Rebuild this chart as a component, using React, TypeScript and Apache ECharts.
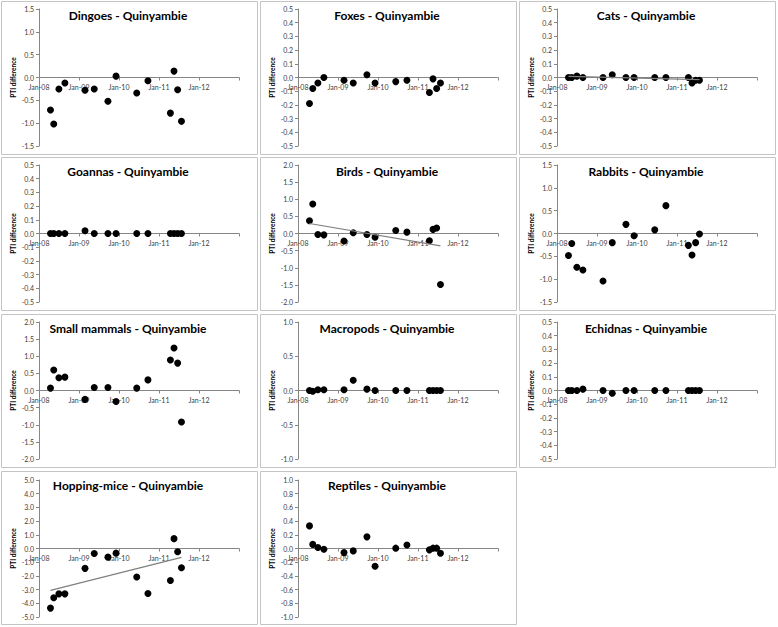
import React, { useEffect, useRef } from "react";
import * as echarts from "echarts";

const surveyDates = [
  "2008-04-15", "2008-05-15", "2008-07-01", "2008-08-25", "2009-02-25", "2009-05-20", "2009-09-22",
  "2009-12-05", "2010-06-12", "2010-09-22", "2011-04-15", "2011-05-18", "2011-06-20", "2011-07-25",
];

const panelNames = [
  "Dingoes", "Foxes", "Cats", "Goannas", "Birds", "Rabbits",
  "Small mammals", "Macropods", "Echidnas", "Hopping-mice", "Reptiles",
];
const siteName = "Quinyambie";

const dingoes = [-0.71, -1.02, -0.25, -0.12, -0.28, -0.25, -0.52, 0.03, -0.34, -0.07, -0.78, 0.14, -0.27, -0.96];
const foxes = [-0.19, -0.08, -0.04, 0.0, -0.02, -0.04, 0.02, -0.04, -0.03, -0.02, -0.11, -0.01, -0.08, -0.04];
const cats = [0, 0, 0.01, 0, 0, 0.02, 0, 0, 0, 0, 0, -0.04, -0.02, -0.02];
const goannas = [0, 0, 0, 0, 0.02, 0, 0, 0, 0, 0, 0, 0, 0, 0];
const birds = [0.37, 0.86, -0.03, -0.04, -0.22, 0.02, -0.03, -0.11, 0.09, 0.04, -0.21, 0.12, 0.16, -1.49];
const rabbits = [-0.48, -0.22, -0.74, -0.8, -1.04, -0.2, 0.2, -0.05, 0.08, 0.61, -0.26, -0.47, -0.2, -0.01];
const smallMammals = [0.07, 0.6, 0.37, 0.39, -0.26, 0.09, 0.09, -0.32, 0.07, 0.31, 0.89, 1.24, 0.8, -0.92];
const macropods = [0, -0.01, 0.01, 0.01, 0.01, 0.15, 0.02, 0, 0, 0, 0, 0, 0, 0];
const echidnas = [0, 0, 0, 0.01, 0, -0.02, 0, 0, 0, 0, 0, 0, 0, 0];
const hoppingMice = [-4.35, -3.6, -3.31, -3.31, -1.45, -0.36, -0.63, -0.34, -2.08, -3.29, -2.34, 0.72, -0.24, -1.4];
const reptiles = [0.33, 0.06, 0.015, -0.01, -0.06, -0.035, 0.17, -0.26, 0.005, 0.05, -0.02, 0.005, 0.005, -0.07];

const panelValues = [dingoes, foxes, cats, goannas, birds, rabbits, smallMammals, macropods, echidnas, hoppingMice, reptiles];
const yMin = [-1.5, -0.5, -0.5, -0.5, -2, -1.5, -2, -1, -0.5, -5, -1];
const yMax = [1.5, 0.5, 0.5, 0.5, 2, 1.5, 2, 1, 0.5, 5, 1];
const yStep = [0.5, 0.1, 0.1, 0.1, 0.5, 0.5, 0.5, 0.5, 0.1, 1, 0.2];
const hasTrend = [false, false, true, false, true, false, false, false, false, true, false];

const xStartYear = 2008;
const xEndYear = 2013;

function toYear(d: string): number {
  const [y, m, day] = d.split("-").map(Number);
  const start = Date.UTC(y, 0, 1);
  const end = Date.UTC(y + 1, 0, 1);
  return y + (Date.UTC(y, m - 1, day) - start) / (end - start);
}

export default function App() {
  const ref = useRef<HTMLDivElement>(null);
  useEffect(() => {
    if (!ref.current) return;
    const chart = echarts.init(ref.current, undefined, { renderer: "svg" });
    const font = "Lato, 'Open Sans', sans-serif";
    const axisColor = "#868686";
    const colLeft = [39, 298, 557];
    const rowTop = [9, 165, 322, 480];
    const panelX = [1, 260, 519];
    const panelY = [1, 157, 314, 471];
    const gridH = 137;
    const xs = surveyDates.map(toYear);

    const grids: any[] = [];
    const xAxes: any[] = [];
    const yAxes: any[] = [];
    const series: any[] = [];
    const titles: any[] = [];
    const graphics: any[] = [];

    panelNames.forEach((name, i) => {
      const r = Math.floor(i / 3);
      const c = i % 3;
      grids.push({ left: colLeft[c], top: rowTop[r], width: 200, height: gridH });
      graphics.push({
        type: "rect",
        shape: { x: panelX[c] + 0.5, y: panelY[r] + 0.5, width: 256, height: 153 },
        style: { fill: "none", stroke: "#c4c4c4", lineWidth: 1 },
        z: -10,
      });
      titles.push({
        text: `${name} - ${siteName}`,
        left: panelX[c] + 127,
        top: panelY[r] + 8,
        textAlign: "center",
        padding: 0,
        textStyle: { fontSize: 12, fontWeight: "bold", color: "#000", fontFamily: font },
      });
      const zeroOffset = -gridH * (0 - yMin[i]) / (yMax[i] - yMin[i]);
      xAxes.push({
        type: "value",
        gridIndex: i,
        position: "bottom",
        offset: zeroOffset,
        min: xStartYear,
        max: xEndYear,
        interval: 1,
        axisLine: { show: true, onZero: false, lineStyle: { color: axisColor, width: 1 } },
        axisTick: { show: true, length: 3, lineStyle: { color: axisColor } },
        axisLabel: {
          fontSize: 7,
          color: "#404040",
          fontFamily: font,
          margin: 6,
          formatter: (v: number) => (v >= xEndYear ? "" : "Jan-" + String(Math.round(v) % 100).padStart(2, "0")),
        },
        splitLine: { show: false },
      });
      yAxes.push({
        type: "value",
        gridIndex: i,
        min: yMin[i],
        max: yMax[i],
        interval: yStep[i],
        name: "PTI difference",
        nameLocation: "middle",
        nameGap: 22,
        nameTextStyle: { fontSize: 6.5, fontWeight: "bold", color: "#000", fontFamily: font },
        axisLine: { show: true, onZero: false, lineStyle: { color: axisColor, width: 1 } },
        axisTick: { show: true, length: 3, lineStyle: { color: axisColor } },
        axisLabel: {
          fontSize: 7,
          color: "#404040",
          fontFamily: font,
          margin: 5,
          formatter: (v: number) => (Math.abs(v) < 1e-9 ? "0.0" : v.toFixed(1)),
        },
        splitLine: { show: false },
      });
      const vals = panelValues[i];
      const pts = vals.map((v, k) => [xs[k], v]);
      if (hasTrend[i]) {
        const n = pts.length;
        const mx = xs.reduce((a, b) => a + b, 0) / n;
        const my = vals.reduce((a, b) => a + b, 0) / n;
        let sxy = 0;
        let sxx = 0;
        for (let k = 0; k < n; k++) {
          sxy += (xs[k] - mx) * (vals[k] - my);
          sxx += (xs[k] - mx) * (xs[k] - mx);
        }
        const b = sxy / sxx;
        const a = my - b * mx;
        const x0 = Math.min(...xs);
        const x1 = Math.max(...xs);
        series.push({
          type: "line",
          xAxisIndex: i,
          yAxisIndex: i,
          data: [[x0, a + b * x0], [x1, a + b * x1]],
          showSymbol: false,
          symbol: "none",
          lineStyle: { color: "#7f7f7f", width: 1.2 },
          z: 3,
        });
      }
      series.push({
        type: "scatter",
        xAxisIndex: i,
        yAxisIndex: i,
        data: pts,
        symbol: "circle",
        symbolSize: 7,
        itemStyle: { color: "#000", opacity: 1 },
        z: 2,
      });
    });

    chart.setOption({
      animation: false,
      backgroundColor: "#fff",
      title: titles,
      grid: grids,
      xAxis: xAxes,
      yAxis: yAxes,
      series,
      graphic: graphics,
    });
    return () => chart.dispose();
  }, []);
  return <div ref={ref} style={{ position: "absolute", left: 0, top: 0, width: 778, height: 627 }} />;
}
